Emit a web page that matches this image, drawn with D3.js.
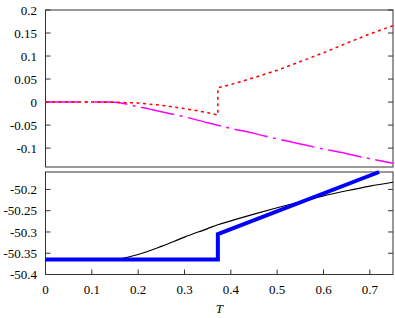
<!DOCTYPE html>
<html>
  <head>
    <meta charset="utf-8">
    <script src="https://d3js.org/d3.v7.min.js"></script>
    <style>
      body { margin: 0; background: #fff; }
    </style>
  </head>
  <body>
    <script type="text/javascript">
      // top panel: red dotted (with jump) and magenta dash-dot
      var redT   = [0, 0.05, 0.1, 0.15, 0.2, 0.25, 0.3, 0.35, 0.372, 0.372, 0.4, 0.45, 0.5, 0.55, 0.6, 0.65, 0.7, 0.75];
      var redV   = [0, 0, 0, -0.0005, -0.002, -0.007, -0.014, -0.023, -0.028, 0.031, 0.038, 0.053, 0.069, 0.088, 0.107, 0.128, 0.148, 0.166];
      var magT   = [0, 0.05, 0.1, 0.14, 0.2, 0.25, 0.3, 0.35, 0.4, 0.45, 0.5, 0.55, 0.6, 0.65, 0.7, 0.75];
      var magV   = [0, 0, 0, 0, -0.010, -0.021, -0.032, -0.045, -0.057, -0.068, -0.080, -0.091, -0.102, -0.112, -0.123, -0.133];

      // bottom panel: thin black curve and thick blue line
      var blackT = [0, 0.05, 0.1, 0.13, 0.16, 0.2, 0.25, 0.3, 0.35, 0.372, 0.4, 0.45, 0.5, 0.55, 0.6, 0.65, 0.7, 0.75];
      var blackV = [-50.365, -50.365, -50.365, -50.365, -50.363, -50.353, -50.334, -50.312, -50.292, -50.283, -50.274, -50.258, -50.243, -50.229, -50.215, -50.203, -50.192, -50.183];
      var blueT  = [0, 0.372, 0.372, 0.72];
      var blueV  = [-50.365, -50.365, -50.305, -50.159];

      var xTicks = [0, 0.1, 0.2, 0.3, 0.4, 0.5, 0.6, 0.7];
      var topTicks = [-0.1, -0.05, 0, 0.05, 0.1, 0.15, 0.2];
      var botTicks = [-50.4, -50.35, -50.3, -50.25, -50.2];

      var W = 395, H = 318;
      var left = 45.5, right = 393;
      var top1 = 10, bot1 = 167;
      var top2 = 172, bot2 = 274.5;

      var svg = d3.select("body").append("svg")
          .attr("width", W)
          .attr("height", H);

      var x = d3.scaleLinear().domain([0, 0.75]).range([left, right]);
      var y1 = d3.scaleLinear().domain([-0.141, 0.2]).range([bot1, top1]);
      var y2 = d3.scaleLinear().domain([-50.4, -50.159]).range([bot2, top2]);

      function zip(a, b) { return a.map(function(t, i) { return [t, b[i]]; }); }
      // gnuplot style labels: plain hyphen for minus
      function fmt(d) { return String(+d.toFixed(2)); }
      function serif(sel) {
        return sel.style("font-family", "'Liberation Serif'").attr("font-size", 13).attr("fill", "#000");
      }

      function panel(y, yt, t0, b0) {
        var g = svg.append("g");
        g.append("rect")
          .attr("x", left).attr("y", t0)
          .attr("width", right - left).attr("height", b0 - t0)
          .attr("fill", "none").attr("stroke", "#333").attr("stroke-width", 1);
        // left & right inward ticks
        g.selectAll(".yl").data(yt).enter().append("line")
          .attr("x1", left).attr("x2", left + 5)
          .attr("y1", function(d) { return y(d); }).attr("y2", function(d) { return y(d); })
          .attr("stroke", "#333");
        g.selectAll(".yr").data(yt).enter().append("line")
          .attr("x1", right).attr("x2", right - 5)
          .attr("y1", function(d) { return y(d); }).attr("y2", function(d) { return y(d); })
          .attr("stroke", "#333");
        g.selectAll(".lab").data(yt).enter().append("text")
          .attr("x", left - 8.5)
          .attr("y", function(d) { return y(d); })
          .attr("dy", "0.35em")
          .attr("text-anchor", "end")
          .call(serif)
          .text(fmt);
        return g;
      }

      panel(y1, topTicks, top1, bot1);
      panel(y2, botTicks, top2, bot2);

      // x ticks on bottom panel
      svg.selectAll(".xt").data(xTicks).enter().append("line")
        .attr("x1", function(d) { return x(d); }).attr("x2", function(d) { return x(d); })
        .attr("y1", bot2).attr("y2", bot2 - 5)
        .attr("stroke", "#333");
      svg.selectAll(".xl").data(xTicks).enter().append("text")
        .attr("x", function(d) { return x(d); })
        .attr("y", 293.5)
        .attr("text-anchor", "middle")
        .call(serif)
        .text(fmt);
      svg.append("text")
        .attr("x", x(0.375)).attr("y", 313)
        .attr("text-anchor", "middle")
        .call(serif)
        .style("font-style", "italic")
        .text("T");

      var line1 = d3.line().x(function(d) { return x(d[0]); }).y(function(d) { return y1(d[1]); });
      var line2 = d3.line().x(function(d) { return x(d[0]); }).y(function(d) { return y2(d[1]); });

      svg.append("path").datum(zip(magT, magV))
        .attr("d", line1.curve(d3.curveMonotoneX))
        .attr("fill", "none").attr("stroke", "#ff00ff").attr("stroke-width", 1.5)
        .attr("stroke-dasharray", "34,5.5,3,5.5");
      svg.append("path").datum(zip(redT, redV))
        .attr("d", line1.curve(d3.curveLinear))
        .attr("fill", "none").attr("stroke", "#ff0000").attr("stroke-width", 1.5)
        .attr("stroke-dasharray", "3,3.5");

      svg.append("path").datum(zip(blackT, blackV))
        .attr("d", line2.curve(d3.curveMonotoneX))
        .attr("fill", "none").attr("stroke", "#000").attr("stroke-width", 1.2);
      svg.append("path").datum(zip(blueT, blueV))
        .attr("d", line2.curve(d3.curveLinear))
        .attr("fill", "none").attr("stroke", "#0000ff").attr("stroke-width", 4);
    </script>
  </body>
</html>
